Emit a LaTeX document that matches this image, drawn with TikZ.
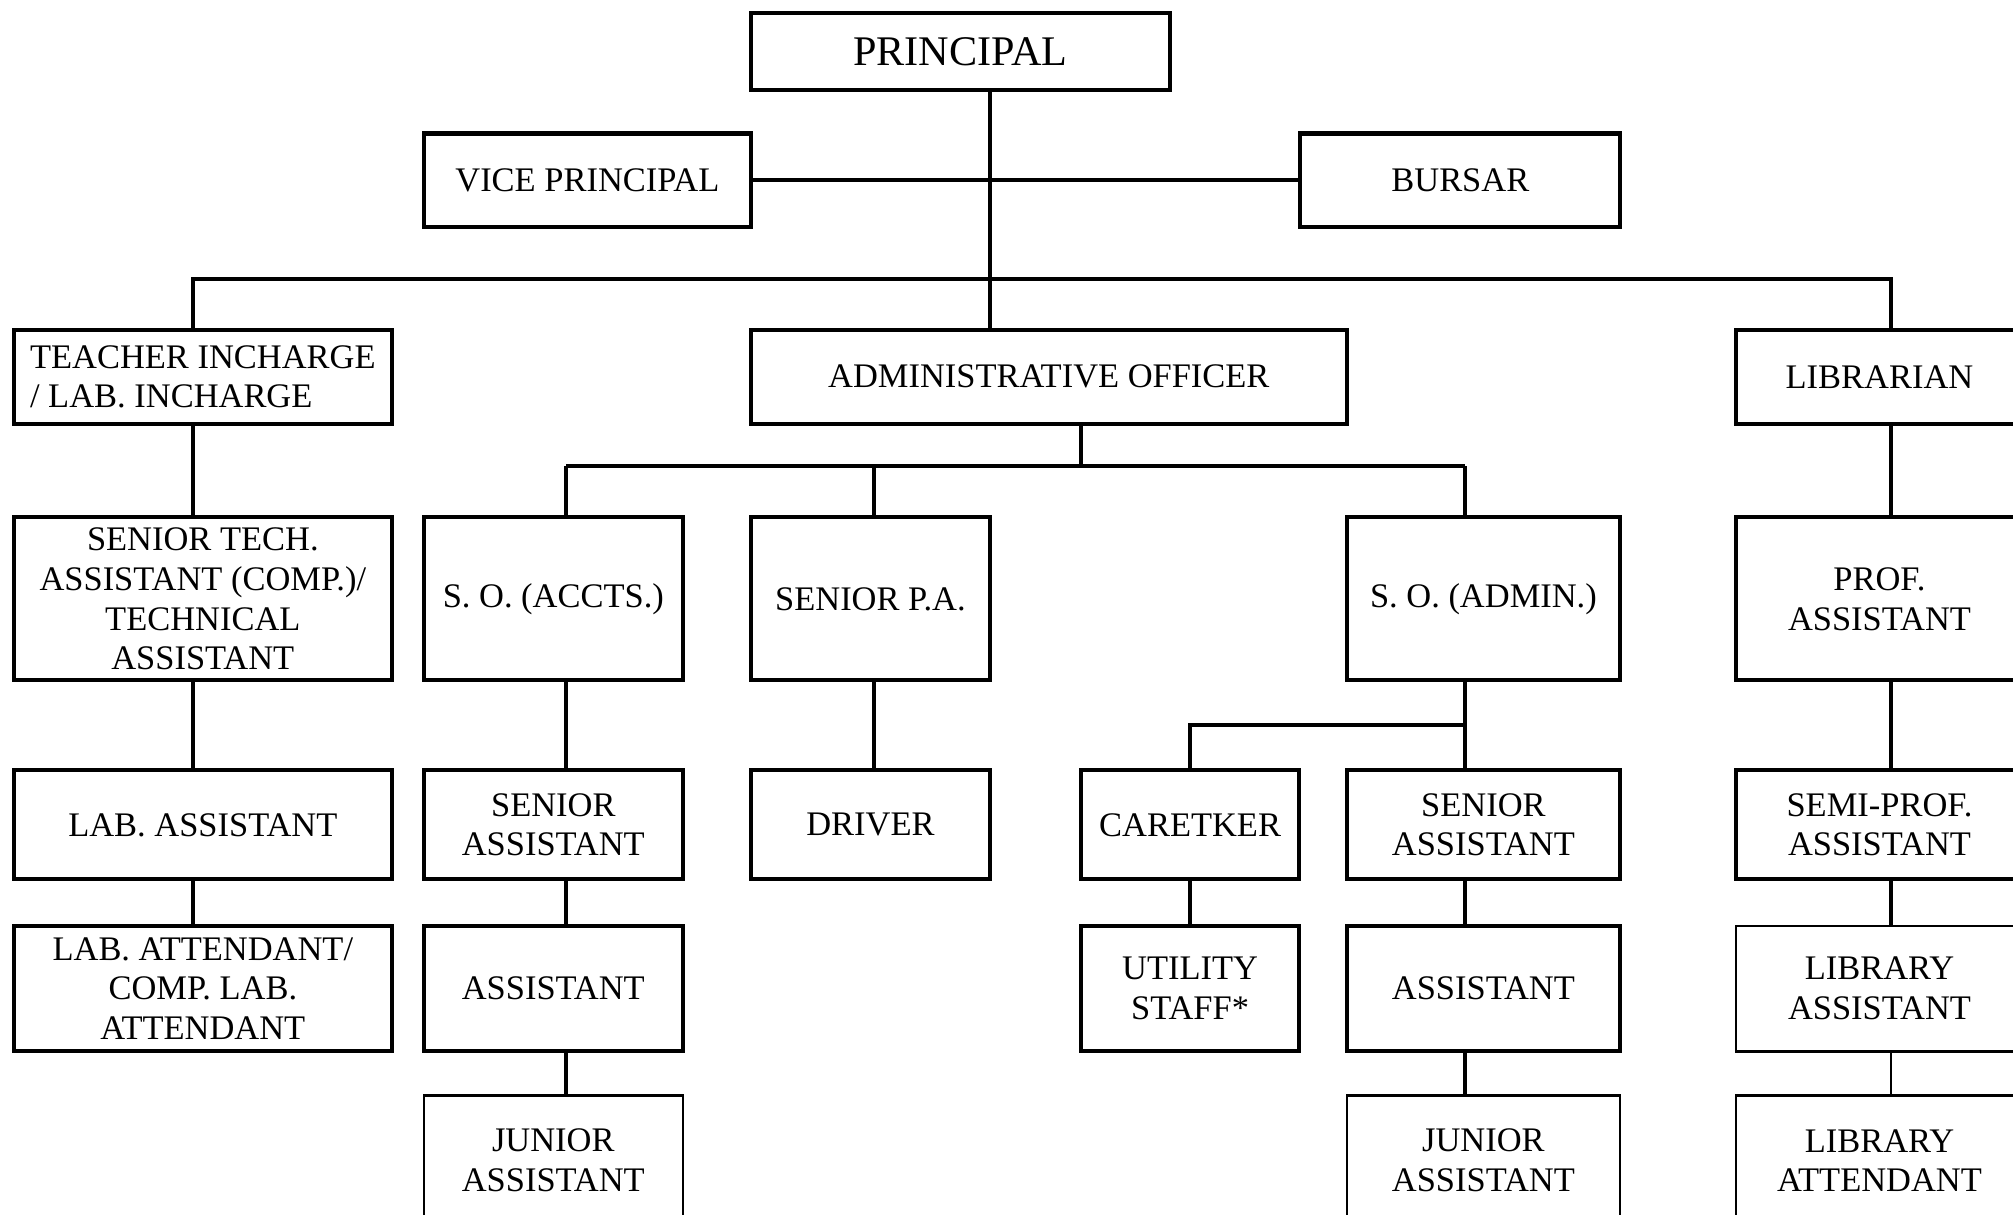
\documentclass[tikz,border=0pt]{standalone}
\usepackage{fontspec}
\setmainfont{Liberation Serif}

\begin{document}
\begin{tikzpicture}[x=0.012838cm, y=-0.012838cm, line width=1.15pt]
   \useasboundingbox (0,0) rectangle (1568,946);
   \clip (0,0) rectangle (1568,946);
   \tikzstyle{post}=[draw=black, line width=1.15pt, inner sep=0pt, align=center, font=\fontsize{9.8}{11.3}\selectfont]
   \tikzstyle{lite}=[post, line width=0.6pt]
   \node[post, minimum width=4.185cm, minimum height=0.770cm, font=\fontsize{12}{14}\selectfont] (principal) at (748,40) {PRINCIPAL};
   \node[post, minimum width=3.274cm, minimum height=0.937cm] (vp) at (457.5,140.5) {VICE PRINCIPAL};
   \node[post, minimum width=3.197cm, minimum height=0.937cm] (bursar) at (1137.5,140.5) {BURSAR};
   \node[post, minimum width=3.774cm, minimum height=0.937cm, align=left] (teacher) at (158,293.5) {TEACHER INCHARGE\\/ LAB. INCHARGE};
   \node[post, minimum width=5.957cm, minimum height=0.937cm] (admin) at (817,293.5) {ADMINISTRATIVE OFFICER};
   \node[post, minimum width=2.876cm, minimum height=0.937cm] (librarian) at (1464,293.5) {LIBRARIAN};
   % fourth row
   \node[post, minimum width=3.774cm, minimum height=1.630cm] (seniortech) at (158,466.5) {SENIOR TECH.\\ASSISTANT (COMP.)/\\TECHNICAL\\ASSISTANT};
   \node[post, minimum width=2.593cm, minimum height=1.630cm] (soaccts) at (431,466.5) {S. O. (ACCTS.)};
   \node[post, minimum width=2.388cm, minimum height=1.630cm] (seniorpa) at (678,466.5) {SENIOR P.A.};
   \node[post, minimum width=2.734cm, minimum height=1.630cm] (soadmin) at (1155.5,466.5) {S. O. (ADMIN.)};
   \node[post, minimum width=2.876cm, minimum height=1.630cm] (prof) at (1464,466.5) {PROF.\\ASSISTANT};
   % fifth row
   \node[post, minimum width=3.774cm, minimum height=1.091cm] (labasst) at (158,642.5) {LAB. ASSISTANT};
   \node[post, minimum width=2.593cm, minimum height=1.091cm] (seniorasstA) at (431,642.5) {SENIOR\\ASSISTANT};
   \node[post, minimum width=2.388cm, minimum height=1.091cm] (driver) at (678,642.5) {DRIVER};
   \node[post, minimum width=2.182cm, minimum height=1.091cm] (caretaker) at (927,642.5) {CARETKER};
   \node[post, minimum width=2.734cm, minimum height=1.091cm] (seniorasstB) at (1155.5,642.5) {SENIOR\\ASSISTANT};
   \node[post, minimum width=2.876cm, minimum height=1.091cm] (semiprof) at (1464,642.5) {SEMI-PROF.\\ASSISTANT};
   % sixth row
   \node[post, minimum width=3.774cm, minimum height=1.258cm] (labatt) at (158,770) {LAB. ATTENDANT/\\COMP. LAB.\\ATTENDANT};
   \node[post, minimum width=2.593cm, minimum height=1.258cm] (asstA) at (431,770) {ASSISTANT};
   \node[post, minimum width=2.182cm, minimum height=1.258cm] (utility) at (927,770) {UTILITY\\STAFF*};
   \node[post, minimum width=2.734cm, minimum height=1.258cm] (asstB) at (1155.5,770) {ASSISTANT};
   \node[lite, minimum width=2.876cm, minimum height=1.258cm] (libasst) at (1464,770) {LIBRARY\\ASSISTANT};
   % last row
   \node[lite, minimum width=2.593cm, minimum height=1.30cm] (juniorA) at (431,904) {JUNIOR\\ASSISTANT};
   \node[lite, minimum width=2.734cm, minimum height=1.30cm] (juniorB) at (1155.5,904) {JUNIOR\\ASSISTANT};
   \node[lite, minimum width=2.876cm, minimum height=1.30cm] (libatt) at (1464,904) {LIBRARY\\ATTENDANT};

   \coordinate (trunk) at (771,217);
   \coordinate (lbus) at (150,217);
   \coordinate (rbus) at (1473,217);
   \coordinate (abus) at (842,363);
   \coordinate (acol) at (441,363);
   \coordinate (pcol) at (681,363);
   \coordinate (scol) at (1141,363);
   \coordinate (cbranch) at (1141,565);
   \coordinate (ccol) at (927,565);

   \draw (principal.south -| trunk) -- (admin.north -| trunk);
   \draw (vp) -- (bursar);
   \draw (teacher.north -| lbus) -- (lbus) -- (rbus) -- (librarian.north -| rbus);
   \draw (admin.south -| abus) -- (abus);
   \draw (acol) -- (scol);
   \foreach \c/\b in {acol/soaccts,pcol/seniorpa,scol/soadmin}
      \draw (\c) -- (\b.north -| \c);
   \draw (cbranch) -- (ccol) -- (caretaker.north -| ccol);
   \foreach \a/\b/\c in {teacher/seniortech/lbus,seniortech/labasst/lbus,labasst/labatt/lbus,
         soaccts/seniorasstA/acol,seniorasstA/asstA/acol,asstA/juniorA/acol,
         seniorpa/driver/pcol,caretaker/utility/ccol,
         soadmin/seniorasstB/scol,seniorasstB/asstB/scol,asstB/juniorB/scol,
         librarian/prof/rbus,prof/semiprof/rbus,semiprof/libasst/rbus}
      \draw (\a.south -| \c) -- (\b.north -| \c);
   \draw[line width=0.6pt] (libasst.south -| rbus) -- (libatt.north -| rbus);
\end{tikzpicture}
\end{document}
